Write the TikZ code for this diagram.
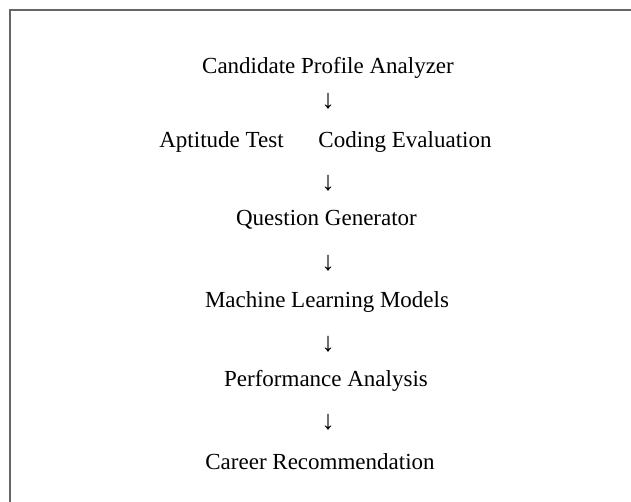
\documentclass[tikz,border=0pt]{standalone}
\usepackage{fontspec}
\setmainfont{Liberation Serif}
\begin{document}
\begin{tikzpicture}[x=1pt,y=-1pt,
  lbl/.style={inner sep=0pt,anchor=base,font=\fontsize{23}{27}\selectfont},
  arr/.style={inner sep=0pt,font=\fontsize{27}{31}\selectfont}]
\useasboundingbox (0,0) rectangle (631,502);
\draw[black!60,line width=1.3pt] (10,502)--(10,10)--(631,10);

\node[lbl] (cpa) at (328,74) {Candidate Profile Analyzer};
\node[arr] (a1) at (328,101) {↓};
\node[lbl] (apt) at (221.5,148) {Aptitude Test};
\node[lbl] (cod) at (405,148) {Coding Evaluation};
\node[arr] (a2) at (328,183) {↓};
\node[lbl] (qg) at (326.5,226) {Question Generator};
\node[arr] (a3) at (328,263) {↓};
\node[lbl] (ml) at (327,307) {Machine Learning Models};
\node[arr] (a4) at (328,344) {↓};
\node[lbl] (pa) at (326,386) {Performance Analysis};
\node[arr] (a5) at (328,422) {↓};
\node[lbl] (cr) at (320,469) {Career Recommendation};
\end{tikzpicture}
\end{document}
